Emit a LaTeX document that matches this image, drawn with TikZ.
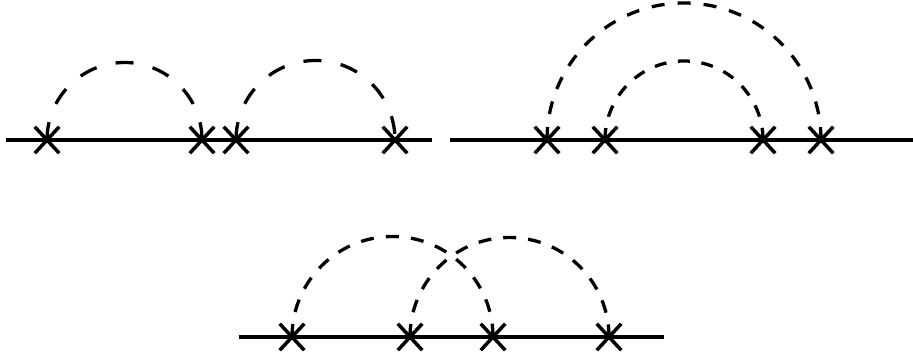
\documentclass[tikz,border=0pt]{standalone}
\usepackage{amsmath}
\usepackage{tikz}
\usetikzlibrary{shapes.misc, calc}

\tikzset{
  vtx/.style={draw, cross out, minimum width=21pt, minimum height=23pt, inner sep=0pt, line width=3.5pt},
  linea/.style={line width=3.2pt},
  prop/.style={line width=3.3pt, dash pattern=on 13pt off 13pt},
}
% semicirculo discontinuo entre dos vertices
\newcommand{\semiarco}[3][]{%
  \draw[prop,#1] let \p1=($(#3)-(#2)$) in (#2.center) arc[start angle=180, end angle=0, radius=0.5*\x1];}

\begin{document}
\begin{tikzpicture}[x=1pt, y=1pt]
    \useasboundingbox (0,0) rectangle (913,356);

    % Diagrama 1: dos arcos consecutivos
    \coordinate (l1) at (6,216);
    \coordinate (r1) at (432,216);
    \draw[linea] (l1) -- (r1);
    \node[vtx] (a1) at (47,216) {};
    \node[vtx] (a2) at (202,216) {};
    \node[vtx] (a3) at (236,216) {};
    \node[vtx] (a4) at (395,216) {};
    \semiarco[dash pattern=on 18pt off 19.6pt]{a1}{a2}
    \semiarco[dash pattern=on 18pt off 19.6pt]{a3}{a4}

    % Diagrama 2: arcos anidados
    \coordinate (l2) at (450,216);
    \coordinate (r2) at (913,216);
    \draw[linea] (l2) -- (r2);
    \node[vtx] (b1) at (547,216) {};
    \node[vtx] (b2) at (605,216) {};
    \node[vtx] (b3) at (763,216) {};
    \node[vtx] (b4) at (821,216) {};
    \semiarco[dash pattern=on 13pt off 13.1pt]{b1}{b4}
    \semiarco[dash pattern=on 12pt off 11.6pt]{b2}{b3}

    % Diagrama 3: arcos cruzados
    \coordinate (l3) at (239,19);
    \coordinate (r3) at (664,19);
    \draw[linea] (l3) -- (r3);
    \node[vtx] (c1) at (292,19) {};
    \node[vtx] (c2) at (410,19) {};
    \node[vtx] (c3) at (493,19) {};
    \node[vtx] (c4) at (609,19) {};
    \semiarco[dash pattern=on 13pt off 12.2pt]{c1}{c3}
    \semiarco[dash pattern=on 13pt off 12pt]{c2}{c4}
\end{tikzpicture}
\end{document}
